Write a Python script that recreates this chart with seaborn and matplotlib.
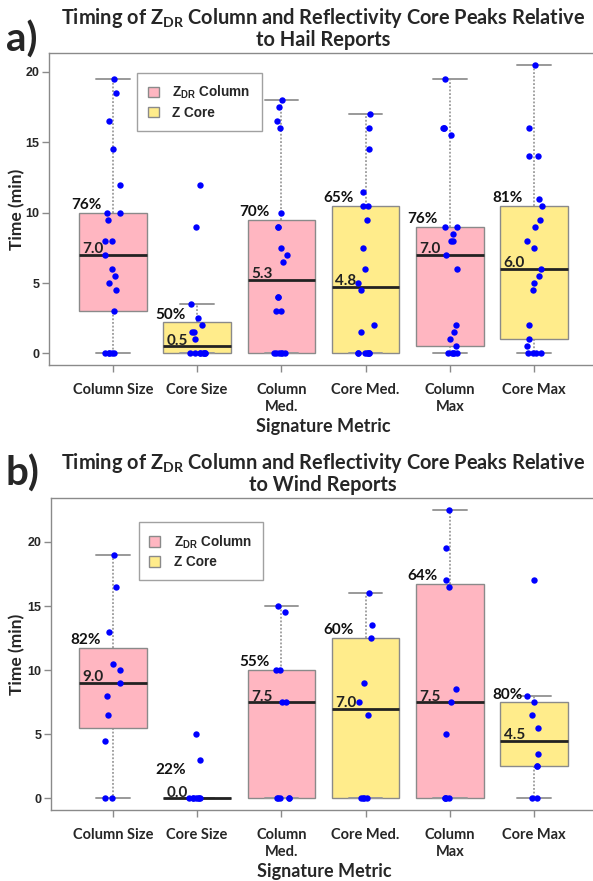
import numpy as np
import pandas as pd
import matplotlib
matplotlib.use("Agg")
import matplotlib.pyplot as plt
import seaborn as sns
from matplotlib.patches import Patch

# ---------------- data ----------------
categories = ["Column Size", "Core Size", "Column\nMed.", "Core Med.", "Column\nMax", "Core Max"]
kinds = ["col", "core", "col", "core", "col", "core"]

# Panel a: hail reports (points, minutes)
hail_column_size = [19.5, 18.5, 16.5, 14.5, 12, 10, 10, 9.5, 8, 8, 7, 6, 5.5, 5, 4.5, 3, 0, 0, 0, 0, 0]
hail_core_size = [12, 9, 3.5, 2.5, 2, 1.5, 1.5, 1, 0, 0, 0, 0, 0, 0, 0, 0]
hail_column_med = [18, 17.5, 16.5, 16, 10, 9, 9, 7.5, 7, 6.5, 4, 4, 3, 3, 0, 0, 0, 0, 0, 0]
hail_core_med = [17, 16, 14.5, 11.5, 10.5, 10.5, 9.5, 7.5, 6, 5, 4.5, 2, 1.5, 0, 0, 0, 0, 0, 0, 0]
hail_column_max = [19.5, 16, 16, 16, 15.5, 9, 9, 8.5, 8, 8, 7, 6, 2, 1.5, 1, 0.5, 0, 0, 0, 0, 0]
hail_core_max = [20.5, 16, 14, 14, 11, 10.5, 9.5, 9, 8, 7.5, 6, 5.5, 5, 4.5, 2, 1, 0.5, 0, 0, 0, 0]

hail_q1 = [3.0, 0.0, 0.0, 0.0, 0.5, 1.0]
hail_med = [7.0, 0.5, 5.25, 4.75, 7.0, 6.0]
hail_q3 = [10.0, 2.2, 9.5, 10.5, 9.0, 10.5]
hail_whislo = [0, 0, 0, 0, 0, 0]
hail_whishi = [19.5, 3.5, 18.0, 17.0, 19.5, 20.5]
hail_med_labels = ["7.0", "0.5", "5.3", "4.8", "7.0", "6.0"]
hail_pct_labels = ["76%", "50%", "70%", "65%", "76%", "81%"]

# Panel b: wind reports
wind_column_size = [19, 16.5, 13, 10.5, 10, 9, 8, 6.5, 4.5, 0, 0]
wind_core_size = [5, 3, 0, 0, 0, 0, 0, 0, 0]
wind_column_med = [15, 14.5, 10, 10, 7.5, 7.5, 0, 0, 0, 0, 0]
wind_core_med = [16, 13.5, 12.5, 9, 7.5, 6.5, 0, 0, 0, 0]
wind_column_max = [22.5, 19.5, 17, 16.5, 8.5, 7.5, 5, 0, 0, 0, 0]
wind_core_max = [17, 8, 7.5, 6.5, 5.5, 3.5, 2.5, 2.5, 0, 0]

wind_q1 = [5.5, 0.0, 0.0, 0.0, 0.0, 2.5]
wind_med = [9.0, 0.0, 7.5, 7.0, 7.5, 4.5]
wind_q3 = [11.75, 0.0, 10.0, 12.5, 16.75, 7.5]
wind_whislo = [0, 0, 0, 0, 0, 0]
wind_whishi = [19.0, 0.0, 15.0, 16.0, 22.5, 8.0]
wind_med_labels = ["9.0", "0.0", "7.5", "7.0", "7.5", "4.5"]
wind_pct_labels = ["82%", "22%", "55%", "60%", "64%", "80%"]

yticks = [0, 5, 10, 15, 20]

# ---------------- style ----------------
sns.set_theme(style="white")
plt.rcParams["font.family"] = ["Lato", "DejaVu Sans"]
plt.rcParams["font.weight"] = "bold"

PINK = "#FFB6C1"
YELLOW = "#FFEC8B"
GRAY = "#8a8a8a"
colors = {"col": PINK, "core": YELLOW}

fig = plt.figure(figsize=(5.93, 8.81), dpi=100)
W, H = 593.0, 881.0


def panel(rect_px, points, q1, med, q3, wlo, whi, med_labels, pct_labels, ylim,
          title, letter, title_y, letter_y, legend_anchor):
    l, t, r, b = rect_px
    ax = fig.add_axes([l / W, 1 - b / H, (r - l) / W, (b - t) / H])
    rows = []
    for cat, vals in zip(categories, points):
        for v in vals:
            rows.append({"metric": cat, "time": v})
    df = pd.DataFrame(rows)
    np.random.seed(3)
    sns.stripplot(data=df, x="metric", y="time", order=categories, color="#0000FF",
                  size=4.6, jitter=0.1, linewidth=0, zorder=4, ax=ax)
    stats = []
    for i in range(len(categories)):
        stats.append(dict(q1=q1[i], med=med[i], q3=q3[i], whislo=wlo[i],
                          whishi=whi[i], fliers=[]))
    bp = ax.bxp(stats, positions=range(len(categories)), widths=0.8, patch_artist=True,
                showfliers=False, capwidths=0.4, manage_ticks=False,
                boxprops=dict(edgecolor=GRAY, linewidth=1.0),
                medianprops=dict(color="#222222", linewidth=2.0),
                whiskerprops=dict(color=GRAY, linestyle=(0, (1.2, 1.2)), linewidth=1.1),
                capprops=dict(color="#999999", linewidth=1.4))
    for patch, k in zip(bp["boxes"], kinds):
        patch.set_facecolor(colors[k])
        patch.set_zorder(2)
    for i in range(len(categories)):
        ax.annotate(med_labels[i], (i - 0.36, med[i]), xytext=(0, 1.2),
                    textcoords="offset points", ha="left", va="baseline",
                    fontsize=11, fontweight="bold", color="#222222", zorder=5)
        ytxt = max(q3[i], med[i] + 1.6)
        ax.annotate(pct_labels[i], (i - 0.32, ytxt), xytext=(0, 0.5),
                    textcoords="offset points", ha="center", va="bottom",
                    fontsize=11, fontweight="bold", color="#111111", zorder=5)
    # axes cosmetics
    ax.set_xlim(-(113 - l) / 84.3, 5 + (r - 534) / 84.3)
    ax.set_ylim(*ylim)
    ax.set_yticks(yticks)
    ax.set_xticks(range(len(categories)))
    ax.set_xticklabels(categories, fontsize=10.5, fontweight="bold", linespacing=1.3)
    for lab in ax.get_yticklabels():
        lab.set_family(["Liberation Sans", "DejaVu Sans"])
        lab.set_fontweight("bold")
        lab.set_fontsize(9)
    ax.tick_params(axis="both", which="major", length=5, width=1, color=GRAY,
                   direction="out", bottom=True, left=True)
    ax.tick_params(axis="x", pad=8)
    ax.tick_params(axis="y", pad=2)
    for s in ax.spines.values():
        s.set_color(GRAY)
        s.set_linewidth(1.0)
    ax.set_xlabel("Signature Metric", fontsize=13, fontweight="bold")
    ax.xaxis.set_label_coords(0.5, -0.17)
    ax.set_ylabel("Time (min)", fontsize=12.5, fontweight="bold")
    ax.yaxis.set_label_coords((25 - l) / (r - l), 0.5)
    ax.grid(False)
    # legend
    handles = [Patch(facecolor=PINK, edgecolor=GRAY, label=r"$\mathregular{Z_{DR}}$ Column"),
               Patch(facecolor=YELLOW, edgecolor=GRAY, label="Z Core")]
    leg = ax.legend(handles=handles, loc="upper left", bbox_to_anchor=legend_anchor,
                    borderaxespad=0, frameon=True, fancybox=False, handlelength=0.8,
                    handleheight=0.8, handletextpad=1.0, borderpad=0.8, labelspacing=0.35,
                    prop={"family": ["Liberation Sans", "DejaVu Sans"], "weight": "bold", "size": 9.8})
    leg.get_frame().set_edgecolor(GRAY)
    leg.get_frame().set_linewidth(1.0)
    leg.set_zorder(6)
    # titles
    fig.text(323 / W, 1 - title_y / H, title, ha="center", va="center",
             fontsize=14.4, fontweight="bold", linespacing=1.05)
    fig.text(6 / W, 1 - letter_y / H, letter, ha="left", va="center",
             fontsize=29, fontweight="bold")
    return ax


hail_points = [hail_column_size, hail_core_size, hail_column_med, hail_core_med,
               hail_column_max, hail_core_max]
wind_points = [wind_column_size, wind_core_size, wind_column_med, wind_core_med,
               wind_column_max, wind_core_max]

panel((49.3, 53.3, 598, 365), hail_points, hail_q1, hail_med, hail_q3, hail_whislo,
      hail_whishi, hail_med_labels, hail_pct_labels, (-0.82, 21.32),
      "Timing of $\\mathregular{Z_{DR}}$ Column and Reflectivity Core Peaks Relative\nto Hail Reports",
      "a)", 28, 40, (0.160, 0.938))
panel((51, 498.3, 598, 810), wind_points, wind_q1, wind_med, wind_q3, wind_whislo,
      wind_whishi, wind_med_labels, wind_pct_labels, (-0.9, 23.4),
      "Timing of $\\mathregular{Z_{DR}}$ Column and Reflectivity Core Peaks Relative\nto Wind Reports",
      "b)", 473, 474, (0.160, 0.923))

fig.savefig("out.png", dpi=100)
